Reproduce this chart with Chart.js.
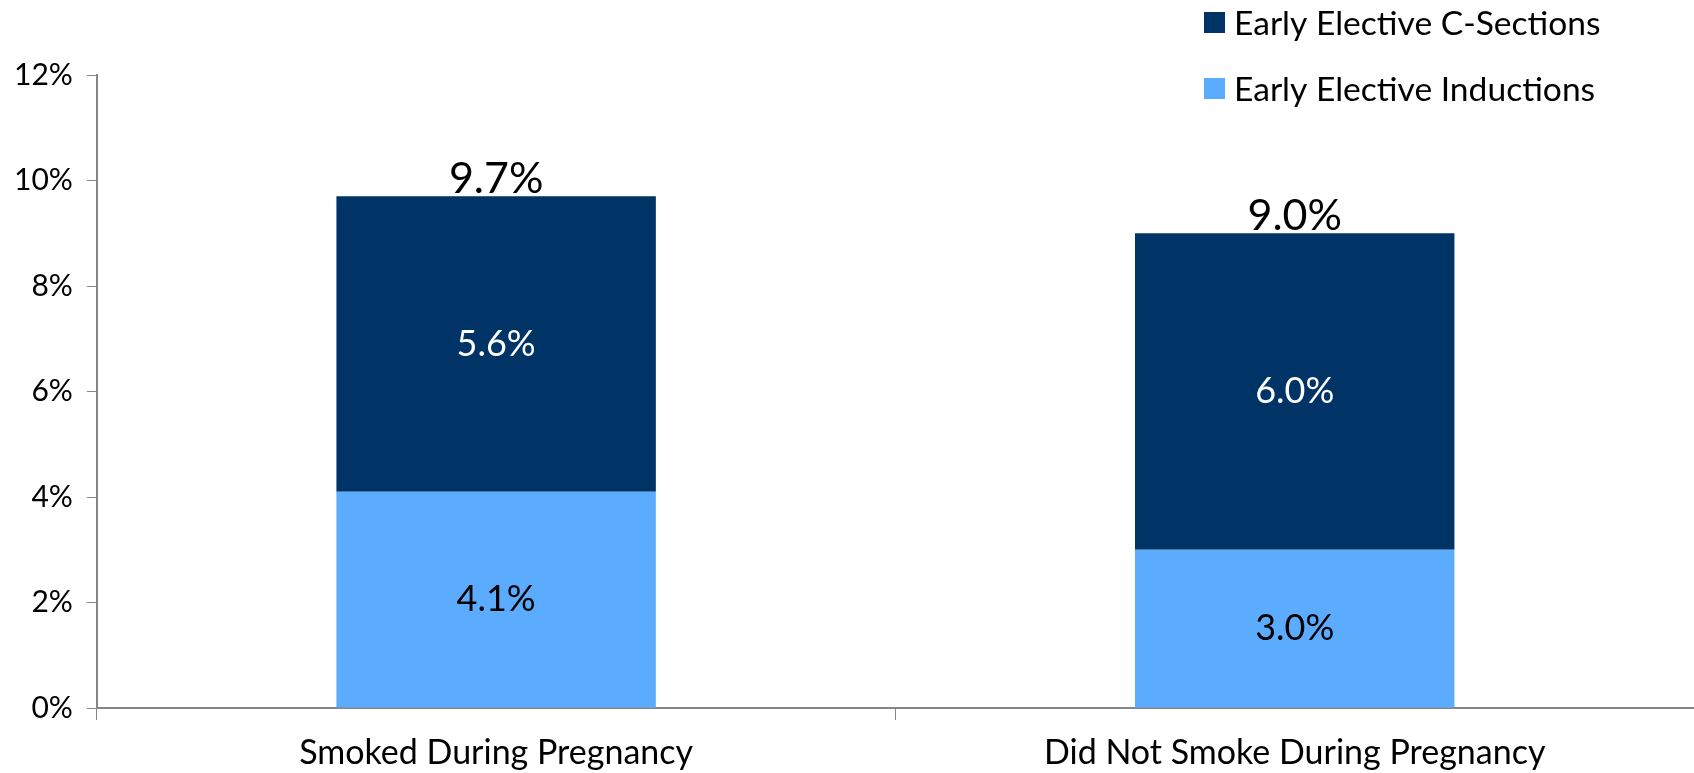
<!DOCTYPE html>
<html>
<head>
<meta charset="utf-8">
<script src="https://cdn.jsdelivr.net/npm/chart.js@4/dist/chart.umd.min.js"></script>
<style>
html,body{margin:0;padding:0;background:#fff;}
#wrap{width:1694px;height:773px;position:relative;}
</style>
</head>
<body>
<div id="wrap"><canvas id="c" width="1694" height="773"></canvas></div>
<script>
const categories = ["Smoked During Pregnancy", "Did Not Smoke During Pregnancy"];
const inductions = [4.1, 3.0];
const cSections = [5.6, 6.0];
const totals = [9.7, 9.0];
const seriesNames = ["Early Elective Inductions", "Early Elective C-Sections"];
const yTicks = [0, 2, 4, 6, 8, 10, 12];

const FONT = "Lato";
const colors = { induction: "#5BACFF", csection: "#003366", axis: "#868686" };

const labelPlugin = {
  id: "labels",
  afterDatasetsDraw(chart) {
    const ctx = chart.ctx;
    ctx.save();
    ctx.textAlign = "center";
    ctx.textBaseline = "middle";
    chart.data.datasets.forEach((ds, di) => {
      const meta = chart.getDatasetMeta(di);
      meta.data.forEach((bar, i) => {
        const v = ds.data[i];
        ctx.fillStyle = di === 0 ? "#000000" : "#ffffff";
        ctx.font = "36px " + FONT;
        ctx.fillText(v.toFixed(1) + "%", bar.x, (bar.y + bar.base) / 2);
      });
    });
    const topMeta = chart.getDatasetMeta(1);
    topMeta.data.forEach((bar, i) => {
      ctx.fillStyle = "#000000";
      ctx.font = "43px " + FONT;
      ctx.textBaseline = "alphabetic";
      ctx.fillText(totals[i].toFixed(1) + "%", bar.x, bar.y - 3);
    });
    ctx.restore();
  }
};

const legendPlugin = {
  id: "customLegend",
  afterDraw(chart) {
    const ctx = chart.ctx;
    ctx.save();
    const items = [
      { name: seriesNames[1], color: colors.csection },
      { name: seriesNames[0], color: colors.induction }
    ];
    items.forEach((it, k) => {
      const cy = 23 + k * 66;
      ctx.fillStyle = it.color;
      ctx.fillRect(1204, cy - 11, 21, 21);
      ctx.fillStyle = "#000000";
      ctx.font = "33.6px " + FONT;
      ctx.textAlign = "left";
      ctx.textBaseline = "middle";
      ctx.fillText(it.name, 1234, cy + 1);
    });
    ctx.restore();
  }
};

new Chart(document.getElementById("c"), {
  type: "bar",
  data: {
    labels: categories,
    datasets: [
      { label: seriesNames[0], data: inductions, backgroundColor: colors.induction, barPercentage: 0.4, categoryPercentage: 1.0 },
      { label: seriesNames[1], data: cSections, backgroundColor: colors.csection, barPercentage: 0.4, categoryPercentage: 1.0 }
    ]
  },
  options: {
    responsive: false,
    animation: false,
    devicePixelRatio: 1,
    layout: { padding: { top: 75, right: 0, left: 0, bottom: -13 } },
    plugins: { legend: { display: false }, tooltip: { enabled: false } },
    scales: {
      x: {
        stacked: true,
        offset: true,
        grid: { display: true, drawOnChartArea: false, offset: true, color: colors.axis, tickLength: 12, lineWidth: 1 },
        border: { display: true, color: colors.axis, width: 2 },
        ticks: { color: "#000", font: { family: FONT, size: 34, lineHeight: "22px" }, padding: 22 }
      },
      y: {
        stacked: true,
        min: 0,
        max: 12,
        afterBuildTicks(axis) { axis.ticks = yTicks.map(v => ({ value: v })); },
        grid: { display: true, drawOnChartArea: false, color: colors.axis, tickLength: 10, lineWidth: 1 },
        border: { display: true, color: colors.axis, width: 2 },
        ticks: { color: "#000", font: { family: FONT, size: 30 }, padding: 14, callback: v => v + "%" }
      }
    }
  },
  plugins: [labelPlugin, legendPlugin]
});
</script>
</body>
</html>
